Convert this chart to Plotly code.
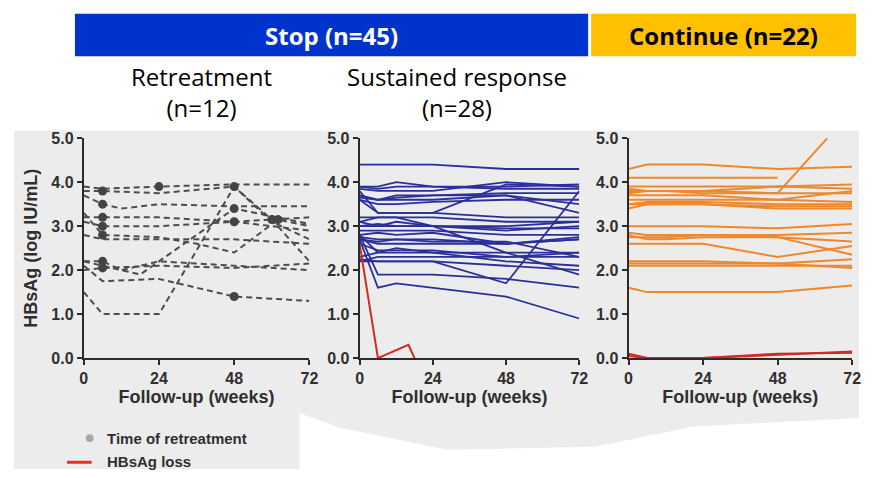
import plotly.graph_objects as go

# ---------------- data ----------------
X_TICKS = [0, 24, 48, 72]
Y_TICKS = [0, 1, 2, 3, 4, 5]
Y_TICK_LABELS = ["0.0", "1.0", "2.0", "3.0", "4.0", "5.0"]

# Panel 1: Retreatment (n=12), dashed grey lines
RET_WEEKS = [
    [0, 6, 24, 48, 72],
    [0, 6, 24, 48, 60, 72],
    [0, 6, 12, 24, 48, 72],
    [0, 6, 24, 48, 60, 72],
    [0, 6, 24, 48, 72],
    [0, 6, 24, 36, 48, 62, 72],
    [0, 6, 24, 48, 72],
    [0, 6, 12, 24, 48, 72],
    [0, 6, 24, 48, 72],
    [0, 6, 24, 48, 72],
    [0, 6, 24, 48, 60, 72],
    [0, 6, 18, 36, 48, 72],
]
RET_VALUES = [
    [3.9, 3.85, 3.9, 3.95, 3.95],
    [3.8, 3.8, 3.75, 3.9, 3.15, 2.2],
    [3.7, 3.5, 3.4, 3.5, 3.45, 3.45],
    [3.2, 3.2, 3.2, 3.1, 3.15, 3.2],
    [3.1, 3.0, 3.0, 3.1, 2.9],
    [3.3, 2.8, 2.75, 2.6, 2.4, 3.15, 3.0],
    [2.8, 2.7, 2.7, 2.7, 2.6],
    [2.2, 2.2, 2.0, 2.2, 2.1, 2.0],
    [2.0, 2.05, 2.1, 2.05, 2.15],
    [2.1, 1.75, 1.8, 1.4, 1.3],
    [1.5, 1.0, 1.0, 3.9, 3.1, 2.7],
    [2.2, 2.1, 1.9, 2.8, 3.4, 3.05],
]
RET_DOT_WEEKS = [6, 6, 6, 6, 6, 6, 6, 24, 48, 48, 48, 48, 60, 62]
RET_DOT_VALUES = [3.8, 3.5, 3.2, 3.0, 2.8, 2.2, 2.05, 3.9, 3.9, 3.4, 3.1, 1.4, 3.15, 3.15]

# Panel 2: Sustained response (n=28)
SR_WEEKS = [0, 6, 12, 24, 48, 72]
SR_VALUES = [
    [4.4, 4.4, 4.4, 4.4, 4.3, 4.3],
    [3.9, 3.9, 4.0, 3.9, 3.85, 3.85],
    [3.85, 3.8, 3.8, 3.8, 4.0, 3.9],
    [3.9, 3.85, 3.9, 3.9, 3.9, 3.95],
    [3.7, 3.6, 3.65, 3.7, 3.75, 3.75],
    [3.65, 3.6, 3.6, 3.6, 3.7, 3.3],
    [3.6, 3.5, 3.5, 3.55, 3.6, 3.6],
    [3.7, 3.6, 3.7, 3.7, 3.7, 3.5],
    [3.8, 3.3, 3.3, 3.3, 3.95, 3.9],
    [3.6, 3.3, 3.3, 3.3, 3.2, 3.2],
    [3.2, 3.2, 3.2, 3.2, 3.1, 3.1],
    [3.1, 3.0, 3.0, 3.0, 2.9, 3.0],
    [3.0, 3.05, 3.0, 3.0, 2.95, 2.95],
    [3.0, 3.0, 3.1, 3.0, 3.0, 3.1],
    [2.9, 2.9, 2.9, 2.9, 2.8, 2.8],
    [2.8, 2.85, 2.8, 2.85, 2.6, 2.7],
    [2.75, 2.7, 2.7, 2.7, 2.6, 2.75],
    [2.7, 2.6, 2.6, 2.6, 2.6, 2.7],
    [2.7, 2.65, 2.7, 2.65, 2.65, 2.3],
    [3.1, 3.2, 3.2, 3.0, 2.4, 1.9],
    [2.8, 2.4, 2.4, 2.4, 2.4, 2.4],
    [2.6, 2.45, 2.45, 2.45, 2.3, 2.4],
    [2.3, 2.4, 2.5, 2.4, 2.2, 2.1],
    [2.25, 2.2, 2.2, 2.2, 2.1, 2.0],
    [2.2, 2.3, 2.3, 2.3, 2.3, 2.3],
    [2.2, 2.2, 2.2, 2.2, 1.7, 3.8],
    [2.8, 1.9, 1.9, 1.9, 1.8, 1.6],
    [2.7, 1.6, 1.7, 1.6, 1.4, 0.9],
]
SR_LOSS_WEEKS = [0, 6, 16, 18]
SR_LOSS_VALUES = [2.6, 0.0, 0.3, 0.0]

# Panel 3: Continue (n=22)
CO_WEEKS = [0, 6, 12, 24, 48, 72]
CO_VALUES = [
    [4.3, 4.4, 4.4, 4.4, 4.3, 4.35],
    [3.9, 3.9, 3.9, 3.9, 3.9, 3.95],
    [3.85, 3.8, 3.8, 3.8, 3.9, 3.85],
    [3.75, 3.8, 3.8, 3.75, 3.75, 3.75],
    [3.7, 3.7, 3.7, 3.7, 3.6, 3.8],
    [3.6, 3.6, 3.6, 3.6, 3.6, 3.55],
    [3.5, 3.55, 3.55, 3.55, 3.5, 3.5],
    [3.4, 3.5, 3.5, 3.5, 3.45, 3.45],
    [3.5, 3.5, 3.5, 3.5, 3.4, 3.4],
    [3.0, 3.0, 3.0, 3.0, 2.95, 3.05],
    [2.85, 2.8, 2.8, 2.8, 2.8, 2.85],
    [2.8, 2.7, 2.7, 2.75, 2.75, 2.65],
    [2.75, 2.75, 2.75, 2.8, 2.75, 2.35],
    [2.6, 2.6, 2.6, 2.6, 2.3, 2.55],
    [2.2, 2.2, 2.2, 2.2, 2.15, 2.25],
    [2.15, 2.15, 2.15, 2.15, 2.15, 2.05],
    [2.1, 2.1, 2.1, 2.1, 2.1, 2.1],
    [1.6, 1.5, 1.5, 1.5, 1.5, 1.65],
]
CO_SHORT_WEEKS = [[0, 6, 24, 48], [0, 6, 24, 48, 64]]
CO_SHORT_VALUES = [[4.1, 4.1, 4.1, 4.1], [3.8, 3.8, 3.8, 3.75, 5.0]]
CO_LOSS_WEEKS = [0, 6, 24, 48, 72]
CO_LOSS_VALUES = [[0.1, 0.0, 0.0, 0.1, 0.12], [0.05, 0.0, 0.0, 0.08, 0.15]]

# ---------------- styling ----------------
W, H = 872, 478
GREY = "#4d4d4d"
BLUE = "#2b2f9c"
ORANGE = "#f0882a"
RED = "#d12a22"
AXIS = "#2e2a26"
TXT = "#2f2f2f"
BOLD = dict(family="Liberation Sans, Arial, sans-serif", weight="bold", color=TXT)

def px(x):
    return x / W

def py(y):
    return 1 - y / H

PANELS = [(81, 310), (361, 584), (634, 861)]
Y_TOP, Y_BOT = 135, 363

fig = go.Figure()

# panel 1
for w, v in zip(RET_WEEKS, RET_VALUES):
    fig.add_trace(go.Scatter(x=w, y=v, mode="lines", xaxis="x", yaxis="y",
                             line=dict(color=GREY, width=2, dash="6px,4px"),
                             showlegend=False, hoverinfo="skip"))
fig.add_trace(go.Scatter(x=RET_DOT_WEEKS, y=RET_DOT_VALUES, mode="markers",
                         xaxis="x", yaxis="y", marker=dict(color="#444444", size=9),
                         showlegend=False, hoverinfo="skip", cliponaxis=False))

# panel 2
for v in SR_VALUES:
    fig.add_trace(go.Scatter(x=SR_WEEKS, y=v, mode="lines", xaxis="x2", yaxis="y2",
                             line=dict(color=BLUE, width=1.8),
                             showlegend=False, hoverinfo="skip"))
fig.add_trace(go.Scatter(x=SR_LOSS_WEEKS, y=SR_LOSS_VALUES, mode="lines",
                         xaxis="x2", yaxis="y2", line=dict(color=RED, width=2),
                         showlegend=False, hoverinfo="skip"))

# panel 3
for v in CO_VALUES:
    fig.add_trace(go.Scatter(x=CO_WEEKS, y=v, mode="lines", xaxis="x3", yaxis="y3",
                             line=dict(color=ORANGE, width=2),
                             showlegend=False, hoverinfo="skip"))
for w, v in zip(CO_SHORT_WEEKS, CO_SHORT_VALUES):
    fig.add_trace(go.Scatter(x=w, y=v, mode="lines", xaxis="x3", yaxis="y3",
                             line=dict(color=ORANGE, width=2),
                             showlegend=False, hoverinfo="skip"))
for v in CO_LOSS_VALUES:
    fig.add_trace(go.Scatter(x=CO_LOSS_WEEKS, y=v, mode="lines", xaxis="x3", yaxis="y3",
                             line=dict(color=RED, width=2),
                             showlegend=False, hoverinfo="skip"))

axis_common = dict(showgrid=False, zeroline=False, showline=True, linecolor=AXIS,
                   linewidth=2, ticks="outside", tickcolor=AXIS, tickwidth=2,
                   ticklen=5, tickfont=dict(size=16, **BOLD))

layout = dict(width=W, height=H, margin=dict(l=0, r=0, t=0, b=0),
              paper_bgcolor="white", plot_bgcolor="rgba(0,0,0,0)",
              showlegend=False)

for i, (x0, x1) in enumerate(PANELS):
    sx = "" if i == 0 else str(i + 1)
    layout["xaxis" + sx] = dict(
        domain=[px(x0), px(x1)], range=[0, 72], tickvals=X_TICKS,
        anchor="y" + sx, title=dict(text="Follow-up (weeks)", font=dict(size=18, **BOLD),
                                    standoff=2),
        **axis_common)
    layout["yaxis" + sx] = dict(
        domain=[py(Y_BOT), py(Y_TOP)], range=[0, 5], tickvals=Y_TICKS,
        ticktext=Y_TICK_LABELS, anchor="x" + sx,
        title=dict(text="HBsAg (log IU/mL)" if i == 0 else "",
                   font=dict(size=18, **BOLD), standoff=9),
        **axis_common)

fig.update_layout(**layout)

# photo background
fig.add_shape(type="path", xref="paper", yref="paper", layer="below",
              path=f"M {px(10)},{py(127)} L {px(868)},{py(127)} L {px(868)},{py(425)} "
                   f"L {px(700)},{py(434)} L {px(600)},{py(455)} L {px(450)},{py(458)} "
                   f"L {px(340)},{py(435)} L {px(300)},{py(420)} L {px(300)},{py(478)} "
                   f"L {px(10)},{py(478)} Z",
              fillcolor="#ececec", line=dict(width=0))

# header bars
fig.add_shape(type="rect", xref="paper", yref="paper", x0=px(72), x1=px(593),
              y0=py(50), y1=py(6), fillcolor="#0033cc", line=dict(width=0))
fig.add_shape(type="rect", xref="paper", yref="paper", x0=px(596), x1=px(865),
              y0=py(50), y1=py(6), fillcolor="#ffc000", line=dict(width=0))

HEAD = "Open Sans, Lato, sans-serif"
fig.add_annotation(x=px(332), y=py(29), xref="paper", yref="paper", showarrow=False,
                   xanchor="center", yanchor="middle",
                   text="<b>Stop (n=45)</b>", font=dict(family=HEAD, size=24, color="white"))
fig.add_annotation(x=px(730), y=py(29), xref="paper", yref="paper", showarrow=False,
                   xanchor="center", yanchor="middle",
                   text="<b>Continue (n=22)</b>", font=dict(family=HEAD, size=24, color="black"))
fig.add_annotation(x=px(200), y=py(87), xref="paper", yref="paper", showarrow=False,
                   xanchor="center", yanchor="middle",
                   text="Retreatment<br>(n=12)", align="center",
                   font=dict(family=HEAD, size=24, color="black"))
fig.add_annotation(x=px(460), y=py(87), xref="paper", yref="paper", showarrow=False,
                   xanchor="center", yanchor="middle",
                   text="Sustained response<br>(n=28)", align="center",
                   font=dict(family=HEAD, size=24, color="black"))

# legend
fig.add_shape(type="circle", xref="paper", yref="paper",
              x0=px(83), x1=px(91), y0=py(450), y1=py(442),
              fillcolor="#a8a8a8", line=dict(width=0))
fig.add_shape(type="line", xref="paper", yref="paper",
              x0=px(64), x1=px(89), y0=py(471), y1=py(471),
              line=dict(color="#e0302a", width=3))
fig.add_annotation(x=px(103), y=py(446), xref="paper", yref="paper", showarrow=False,
                   xanchor="left", yanchor="middle",
                   text="Time of retreatment", font=dict(size=15, **BOLD))
fig.add_annotation(x=px(103), y=py(470), xref="paper", yref="paper", showarrow=False,
                   xanchor="left", yanchor="middle",
                   text="HBsAg loss", font=dict(size=15, **BOLD))

fig.write_html("out.html")
